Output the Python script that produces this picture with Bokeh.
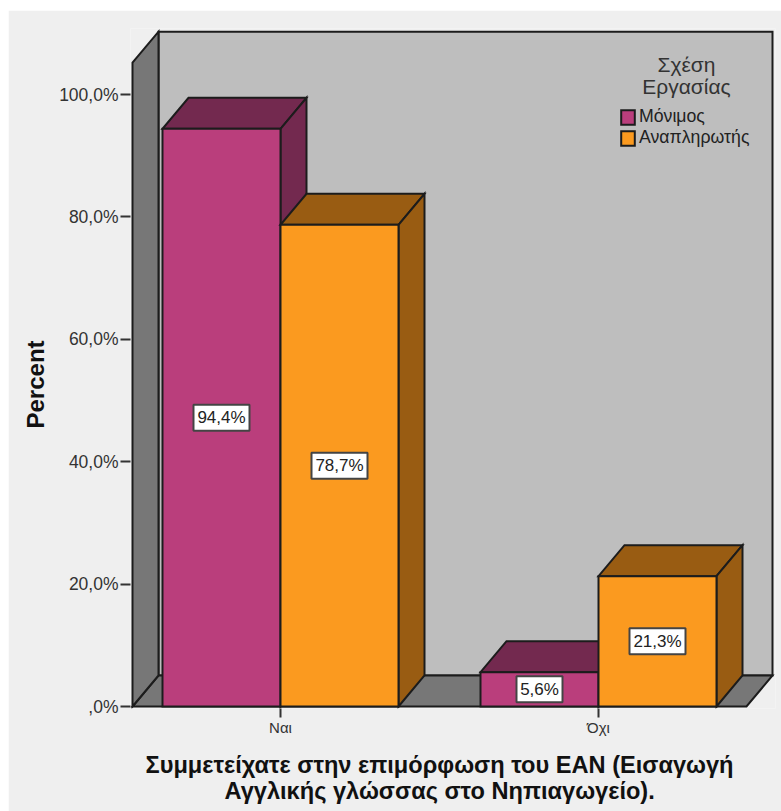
from bokeh.core.properties import value
from bokeh.embed import file_html
from bokeh.models import ColumnDataSource, FixedTicker, Legend, LegendItem, Range1d, Title
from bokeh.plotting import figure
from bokeh.resources import INLINE

# Chart data
categories = ["Ναι", "Όχι"]
monimos = [94.4, 5.6]
anaplirotis = [78.7, 21.3]
series_names = ["Μόνιμος", "Αναπληρωτής"]
y_ticks = [0, 20, 40, 60, 80, 100]
y_tick_labels = [",0%", "20,0%", "40,0%", "60,0%", "80,0%", "100,0%"]
x_title = ["Συμμετείχατε στην επιμόρφωση του ΕΑΝ (Εισαγωγή",
           "Αγγλικής γλώσσας στο Νηπιαγωγείο)."]
y_title = "Percent"
legend_title = ["Σχέση", "Εργασίας"]

# Scale: pixels per category step / per percentage point
PX_X = 318.0
PX_Y = 6.12
BAR_W = 118 / PX_X
DX = 26 / PX_X       # oblique depth offsets
DY = 31 / PX_Y
X_LEFT = -148 / PX_X                 # front edge of the left wall
X_RIGHT = X_LEFT + 614 / PX_X        # front edge of the floor
Y_TOP = 105.2                        # front height of the walls

INK = "#1c1c1c"
FONT = "Liberation Sans"
PINK, PINK_DARK = "#BA3E7C", "#73294F"
ORANGE, ORANGE_DARK = "#FB9A1F", "#995C12"
WALL, SIDE = "#BEBEBE", "#777777"

p = figure(
    width=773, height=801, output_backend="svg", toolbar_location=None,
    x_range=Range1d((130 - 280) / PX_X, (775 - 280) / PX_X),
    y_range=Range1d(-2 / PX_Y, (708 - 28 - 2) / PX_Y),
    min_border_left=122, min_border_right=6, min_border_top=18, min_border_bottom=103,
    background_fill_color="#EFEFEF", border_fill_color="#EFEFEF",
    outline_line_color=None,
)
p.margin = (10, 0, 0, 8)
p.grid.visible = False


def poly(xs, ys, color):
    return p.patch(xs, ys, fill_color=color, line_color=INK, line_width=2, line_join="miter")


# Chart box: back wall, floor, left wall
poly([X_LEFT + DX, X_RIGHT + DX, X_RIGHT + DX, X_LEFT + DX],
     [DY, DY, Y_TOP + DY, Y_TOP + DY], WALL)
poly([X_LEFT, X_RIGHT, X_RIGHT + DX, X_LEFT + DX], [0, 0, DY, DY], SIDE)
poly([X_LEFT, X_LEFT + DX, X_LEFT + DX, X_LEFT],
     [0, DY, Y_TOP + DY, Y_TOP], SIDE)


def bar(x0, h, front, dark):
    x1 = x0 + BAR_W
    poly([x0, x1, x1 + DX, x0 + DX], [h, h, h + DY, h + DY], dark)
    poly([x1, x1 + DX, x1 + DX, x1], [0, DY, h + DY, h], dark)
    return poly([x0, x1, x1, x0], [0, 0, h, h], front)


legend_marks = []
for i in range(len(categories)):
    r1 = bar(i - BAR_W, monimos[i], PINK, PINK_DARK)
    r2 = bar(i, anaplirotis[i], ORANGE, ORANGE_DARK)
    if i == 0:
        legend_marks = [r1, r2]

# Value labels in white boxes at mid-height of each bar
xs, ys, texts, widths = [], [], [], []
for i in range(len(categories)):
    for offset, v in ((-BAR_W / 2, monimos[i]), (BAR_W / 2, anaplirotis[i])):
        label = f"{v:.1f}%".replace(".", ",")
        xs.append(i + offset)
        ys.append(v / 2)
        texts.append(label)
        widths.append(56 if v >= 10 else 46)
src = ColumnDataSource(dict(x=xs, y=ys, text=texts, w=widths))
p.rect("x", "y", width={"field": "w", "units": "screen"}, height={"value": 26, "units": "screen"},
       source=src, fill_color="white", line_color="#444444", line_width=2)
p.text("x", "y", text="text", source=src, text_font=value(FONT), text_font_size="17px",
       text_color="#222222", text_align="center", text_baseline="middle")

# Axes
p.yaxis.ticker = FixedTicker(ticks=y_ticks)
p.yaxis.major_label_overrides = dict(zip(y_ticks, y_tick_labels))
p.yaxis.axis_line_color = None
p.yaxis.major_tick_line_color = "#333333"
p.yaxis.major_tick_line_width = 2
p.yaxis.major_tick_in = 0
p.yaxis.major_tick_out = 10
p.yaxis.minor_tick_line_color = None
p.yaxis.major_label_standoff = 2
p.yaxis.major_label_text_font = FONT
p.yaxis.major_label_text_font_size = "17.5px"
p.yaxis.major_label_text_color = "#333333"

p.xaxis.ticker = FixedTicker(ticks=list(range(len(categories))))
p.xaxis.major_label_overrides = dict(enumerate(categories))
p.xaxis.axis_line_color = None
p.xaxis.major_tick_line_color = "#333333"
p.xaxis.major_tick_line_width = 2
p.xaxis.major_tick_in = 0
p.xaxis.major_tick_out = 9
p.xaxis.minor_tick_line_color = None
p.xaxis.major_label_standoff = 1
p.xaxis.major_label_text_font = FONT
p.xaxis.major_label_text_font_size = "15px"
p.xaxis.major_label_text_color = "#333333"

# Axis titles are offset from the frame edge so they centre on the chart box
title_style = dict(text_font=FONT, text_font_style="bold", text_color="#111111", align="left")
p.add_layout(Title(text=y_title, text_font_size="24px", offset=280, standoff=16, **title_style), "left")
p.add_layout(Title(text=x_title[0], text_font_size="23.6px", offset=15, standoff=22, **title_style), "below")
p.add_layout(Title(text=x_title[1], text_font_size="23.6px", offset=94, standoff=-30, **title_style), "below")

# Legend title sits above the legend entries
p.text([(686 - 280) / PX_X] * 2, [(706 - 64) / PX_Y, (706 - 86) / PX_Y], text=legend_title,
       text_font=value(FONT), text_font_size="21px", text_color="#333333",
       text_align="center", text_baseline="middle")

legend = Legend(
    items=[LegendItem(label=series_names[0], renderers=[legend_marks[0]]),
           LegendItem(label=series_names[1], renderers=[legend_marks[1]])],
    location=(489, 560), orientation="vertical",
    glyph_width=17, glyph_height=18, spacing=0, label_standoff=3, padding=0, margin=0,
    background_fill_alpha=0, border_line_alpha=0,
    label_text_font=FONT, label_text_font_size="17.7px", label_text_color="#222222",
)
p.add_layout(legend)

open("out.html", "w").write(file_html(p, INLINE))
